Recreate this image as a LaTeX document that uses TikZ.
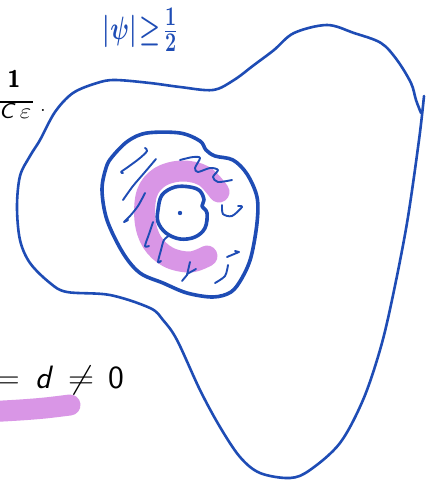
\documentclass[tikz,border=0pt]{standalone}
\usepackage{amsmath}
\definecolor{inkblue}{RGB}{30,76,181}
\definecolor{hl}{RGB}{217,150,230}
\tikzset{
  outerpen/.style={draw=inkblue, line width=2.6pt, line join=round, line cap=round},
  ringpen/.style={draw=inkblue, line width=3.6pt, line join=round, line cap=round},
  hatchpen/.style={draw=inkblue, line width=1.9pt, line join=round, line cap=round},
  hlpen/.style={draw=hl, line width=21pt, line cap=round, line join=round},
  txt/.style={inner sep=0pt, outer sep=0pt},
  bigtxt/.style={txt, anchor=base, font=\fontsize{24.88}{30}\selectfont}
}
\begin{document}
\begin{tikzpicture}[x=1pt, y=-1pt]
\useasboundingbox (0,0) rectangle (428,484);
\fill[white] (0,0) rectangle (428,484);

% highlighter strokes
\draw[hlpen] plot[smooth, tension=0.6] coordinates {(219,192) (204,176) (182,171) (160,177) (147,193) (145,220) (152,242) (168,257) (190,262) (207,256)};
\draw[hlpen] plot[smooth] coordinates {(-15,412) (20,410) (45,408) (70,405)};

% outer region
\draw[outerpen] plot[smooth, tension=0.55] coordinates {(424,96) (419,140) (407,223) (392,300) (380,350) (363,400) (340,443) (310,470) (290,478) (260,473) (240,457) (220,427) (200,390) (177,340) (163,320) (150,308) (110,295) (67,292) (50,283) (30,263) (20,240) (17,207) (20,176) (30,156) (40,140) (55,112) (73,93) (97,83) (115,80) (150,83) (180,87) (213,90) (234,80) (254,65) (274,50) (294,33) (327,25) (354,33) (381,43) (397,60) (411,83) (416,100) (421,113)};

% ring
\draw[ringpen] plot[smooth cycle, tension=0.55] coordinates {(112,157) (128,141) (147,133) (180,133) (200,141) (206,150) (215,156) (233,160) (247,174) (257,197) (257,223) (251,257) (242,278) (231,292) (213,297) (187,293) (163,283) (140,273) (123,253) (107,220) (102,190) (106,168)};

% inner circle
\draw[ringpen] plot[smooth cycle, tension=0.6] coordinates {(158,210) (162,195) (175,187) (190,187) (200,191) (204,200) (202,206) (207,213) (205,228) (195,237) (180,239) (166,233) (158,222)};
\fill[inkblue] (180,213) circle (2.2);

% hatch strokes
\draw[hatchpen] plot[smooth, tension=0.6] coordinates {(145,148) (147,151) (140,158) (128,167) (121,172) (123,173)};
\draw[hatchpen] plot[smooth] coordinates {(156,159) (145,172) (133,186) (123,200)};
\draw[hatchpen] plot[smooth] coordinates {(145,193) (138,206) (130,216) (124,222) (128,220)};
\draw[hatchpen] plot[smooth] coordinates {(153,222) (149,234) (145,246) (149,246)};
\draw[hatchpen] plot[smooth] coordinates {(170,235) (164,240) (161,250) (158,262) (161,261)};
\draw[hatchpen] (190,262) -- (187,275) -- (182,281);
\draw[hatchpen] (187,274) -- (196,269);
\draw[hatchpen] plot[smooth] coordinates {(228,265) (225,276) (215,283)};
\draw[hatchpen] (227,257) -- (239,252) -- (235,251);
\draw[hatchpen] plot[smooth] coordinates {(222,205) (223,214) (232,216) (242,207) (238,206)};
\draw[hatchpen] plot[smooth, tension=0.5] coordinates {(180,160) (193,157) (200,158) (195,168) (198,172) (210,168) (218,170) (213,177) (218,182) (232,180)};

% handwritten label
\node[txt, text=inkblue, font=\fontsize{24.88}{28}\selectfont] (hw) at (140,30) {\scalebox{0.95}[1.3]{$\boldsymbol{|\psi|\!\geq\!\tfrac{1}{2}}$}};

% fraction 1/(C eps) .
\node[txt, anchor=base, font=\fontsize{24}{26}\selectfont\sffamily\bfseries] (num) at (14,88) {1};
\coordinate (barL) at (-2,102);
\coordinate (barR) at (33,102);
\draw[line width=1.3pt] (barL) -- (barR);
\node[txt, anchor=base, font=\fontsize{20.74}{24}\selectfont] (den) at (15,118) {\scalebox{1.2}[1.05]{\textsf{\itshape C}$\,\varepsilon$}};
\node[txt, anchor=base, font=\fontsize{24.88}{28}\selectfont] (dot) at (43,111) {.};

% = d neq 0
\node[bigtxt] (eqs) at (8,388) {\scalebox{1.3}{$=$}};
\node[bigtxt] (dd) at (44,388) {\scalebox{1.3}{\textsf{\itshape d}}};
\node[bigtxt] (neq) at (81,388) {\scalebox{1.45}[1.3]{$\neq$}};
\node[bigtxt] (zero) at (116,388) {\scalebox{1.35}[1.3]{\textsf{0}}};
\end{tikzpicture}
\end{document}
